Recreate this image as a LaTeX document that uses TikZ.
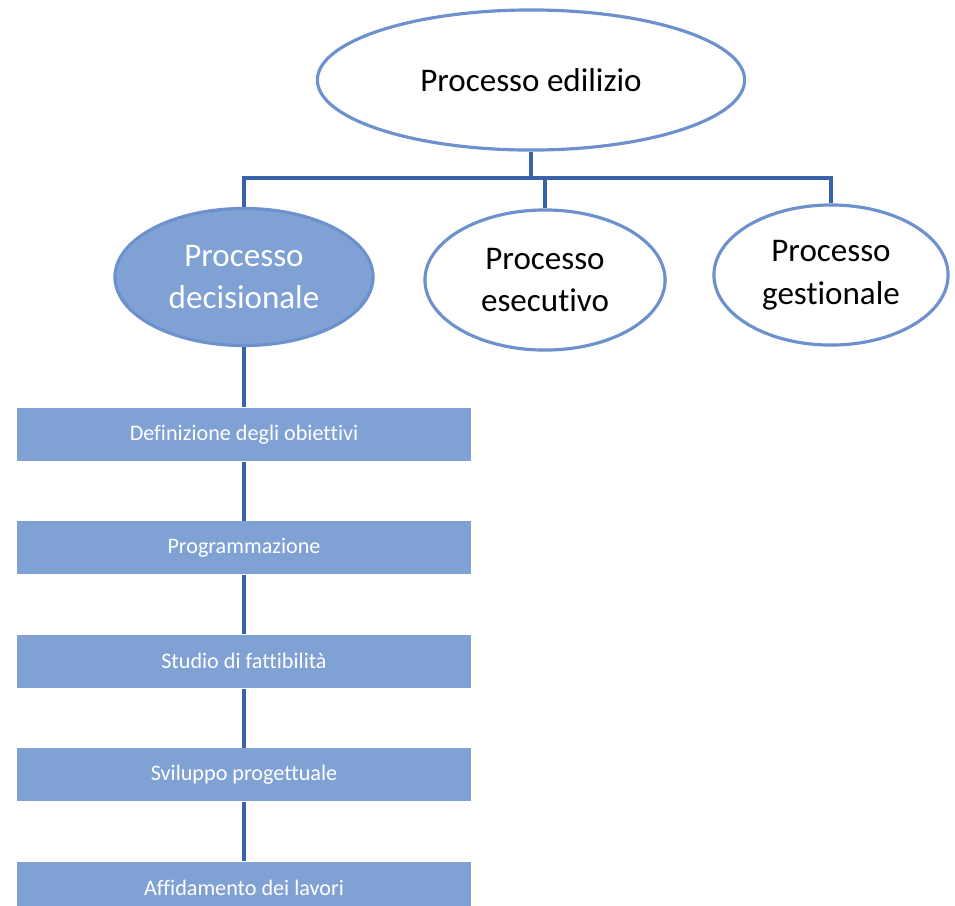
\documentclass[tikz,border=0pt]{standalone}
\usepackage{fontspec}
\setmainfont{Carlito}[Ligatures=NoCommon]
\usetikzlibrary{positioning, shapes.geometric}

\definecolor{fillblue}{RGB}{127,161,212}
\definecolor{rimblue}{RGB}{108,145,205}
\definecolor{linkblue}{RGB}{58,98,168}

\begin{document}
\begin{tikzpicture}[
    x=0.01cm, y=-0.01cm,
    font=\fontsize{9.4pt}{12.2pt}\selectfont,
    proc/.style={ellipse, draw=rimblue, line width=0.9pt, inner sep=0pt, align=center},
    procfill/.style={proc, fill=fillblue, text=white},
    stagebox/.style={rectangle, fill=fillblue, text=white, minimum width=4.53cm, minimum height=0.53cm, inner sep=0pt, font=\fontsize{6.3pt}{7.5pt}\selectfont},
    link/.style={draw=linkblue, line width=1pt}
  ]
    \useasboundingbox (0,0) rectangle (955,905);

    \node[proc, minimum width=4.27cm, minimum height=1.40cm] (edil) at (531,80) {Processo edilizio};

    \node[procfill, minimum width=2.58cm, minimum height=1.37cm] (dec) at (244,277) {Processo\\decisionale};
    \node[proc, minimum width=2.40cm, minimum height=1.40cm] (ese) at (545,280) {Processo\\esecutivo};
    \node[proc, minimum width=2.34cm, minimum height=1.40cm] (gest) at (831,275) {Processo\\gestionale};

    \coordinate (bus) at (531,178);
    \draw[link] (edil.south) -- (bus);
    \draw[link] (dec.north) |- (bus) -| (gest.north);
    \draw[link] (ese.north) -- (ese.north |- bus);

    % ==========================================
    \node[stagebox, below=0.60cm of dec] (obj) {Definizione degli obiettivi};
    \node[stagebox, below=0.59cm of obj] (prog) {Programmazione};
    \node[stagebox, below=0.59cm of prog] (fatt) {Studio di fattibilità};
    \node[stagebox, below=0.59cm of fatt] (svil) {Sviluppo progettuale};
    \node[stagebox, below=0.59cm of svil] (aff) {Affidamento dei lavori};

    \draw[link] (dec) -- (obj);
    \draw[link] (obj) -- (prog);
    \draw[link] (prog) -- (fatt);
    \draw[link] (fatt) -- (svil);
    \draw[link] (svil) -- (aff);
\end{tikzpicture}
\end{document}
